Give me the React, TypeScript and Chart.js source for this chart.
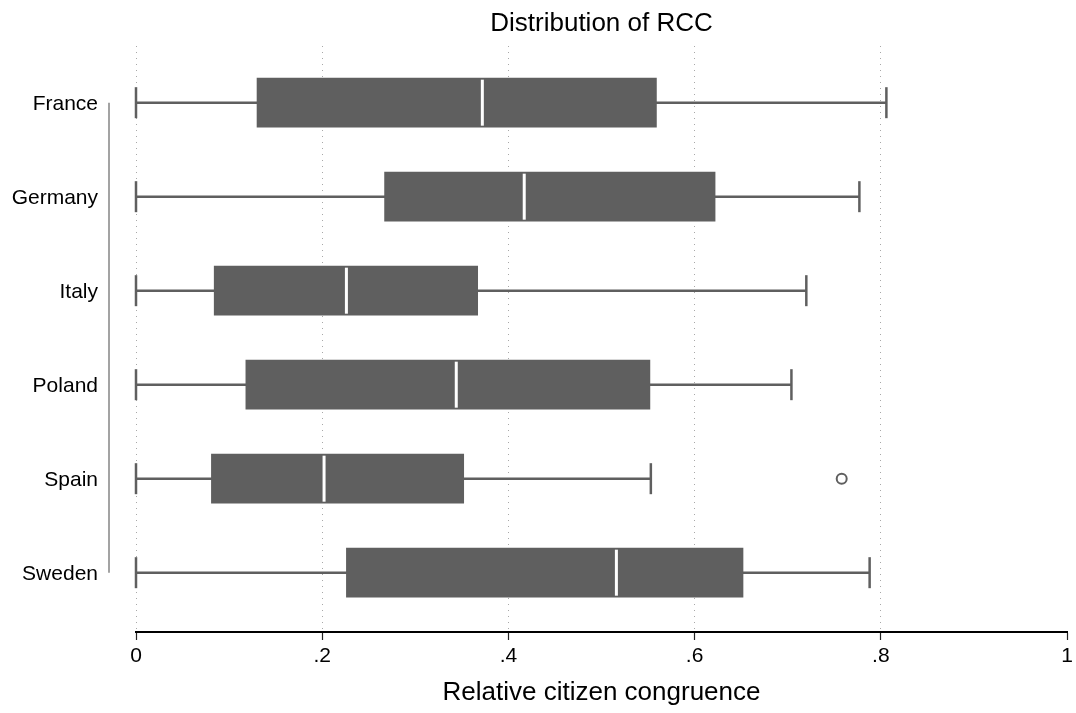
import React, { useEffect, useRef } from "react";
import { Chart, registerables } from "chart.js";

Chart.register(...registerables);

const countries = ["France", "Germany", "Italy", "Poland", "Spain", "Sweden"];
const lowerWhisker = [0, 0, 0, 0, 0, 0];
const q1 = [0.13, 0.267, 0.084, 0.118, 0.081, 0.226];
const median = [0.372, 0.417, 0.226, 0.344, 0.202, 0.516];
const q3 = [0.559, 0.622, 0.367, 0.552, 0.352, 0.652];
const upperWhisker = [0.806, 0.777, 0.72, 0.704, 0.553, 0.788];
const outlierCountries = ["Spain"];
const outlierValues = [0.758];
const xTickValues = [0, 0.2, 0.4, 0.6, 0.8, 1];
const xTickLabels = ["0", ".2", ".4", ".6", ".8", "1"];

const chartTitle = "Distribution of RCC";
const xTitle = "Relative citizen congruence";

const FONT = '"Liberation Sans", Arial, Helvetica, sans-serif';
const BOX = "#5f5f5f";

const axisLinePlugin = {
  id: "shortAxisLine",
  afterDraw(chart: any) {
    const { ctx } = chart;
    const y = chart.scales.y;
    const x = y.right - 27;
    ctx.save();
    ctx.strokeStyle = "#a3a3a3";
    ctx.lineWidth = 2;
    ctx.beginPath();
    ctx.moveTo(x, y.getPixelForValue(0));
    ctx.lineTo(x, y.getPixelForValue(countries.length - 1));
    ctx.stroke();
    ctx.restore();
  },
};

export default function App() {
  const ref = useRef<HTMLCanvasElement | null>(null);

  useEffect(() => {
    if (!ref.current) return;
    Chart.defaults.font.family = FONT;
    Chart.defaults.color = "#000";

    const whiskerData: any[] = [];
    countries.forEach((_, i) => {
      whiskerData.push({ x: lowerWhisker[i], y: i });
      whiskerData.push({ x: upperWhisker[i], y: i });
      whiskerData.push({ x: NaN, y: NaN });
    });
    const capData: any[] = [];
    countries.forEach((_, i) => {
      capData.push({ x: lowerWhisker[i], y: i });
      capData.push({ x: upperWhisker[i], y: i });
    });

    const chart = new Chart(ref.current, {
      type: "bar",
      data: {
        datasets: [
          {
            type: "line",
            label: "whiskers",
            data: whiskerData,
            borderColor: BOX,
            borderWidth: 2.5,
            pointRadius: 0,
            spanGaps: false,
            fill: false,
            clip: false,
            order: 5,
          } as any,
          {
            type: "bar",
            label: "box",
            indexAxis: "y",
            data: countries.map((_, i) => ({ y: i, x: [q1[i], q3[i]] })),
            backgroundColor: BOX,
            borderWidth: 0,
            barThickness: 49,
            order: 4,
          } as any,
          {
            type: "scatter",
            label: "caps",
            data: capData,
            pointStyle: "line",
            rotation: 90,
            radius: 15.5,
            borderWidth: 2.5,
            borderColor: BOX,
            clip: false,
            order: 3,
          } as any,
          {
            type: "scatter",
            label: "outliers",
            data: outlierCountries.map((c, k) => ({ x: outlierValues[k], y: countries.indexOf(c) })),
            pointStyle: "circle",
            radius: 5,
            borderWidth: 2,
            borderColor: BOX,
            backgroundColor: "rgba(0,0,0,0)",
            order: 2,
          } as any,
          {
            type: "scatter",
            label: "median",
            data: countries.map((_, i) => ({ x: median[i], y: i })),
            pointStyle: "line",
            rotation: 90,
            radius: 23,
            borderWidth: 3,
            borderColor: "#ffffff",
            order: 1,
          } as any,
        ],
      },
      options: {
        animation: false,
        responsive: false,
        events: [],
        layout: { autoPadding: false, padding: { top: 0, left: 0, right: 9, bottom: 0 } },
        plugins: {
          legend: { display: false },
          tooltip: { enabled: false },
          title: {
            display: true,
            text: chartTitle,
            fullSize: false,
            color: "#000",
            font: { size: 26, weight: "normal", family: FONT },
            padding: { top: 8, bottom: 6.8 },
          },
        },
        scales: {
          x: {
            type: "linear",
            position: "bottom",
            offset: false,
            min: 0,
            max: 1,
            afterBuildTicks: (axis: any) => {
              axis.ticks = xTickValues.map((v) => ({ value: v }));
            },
            afterFit: (axis: any) => {
              axis.height = 81;
              axis.paddingLeft = 0;
              axis.paddingRight = 0;
            },
            ticks: {
              callback: (_v: any, i: number) => xTickLabels[i],
              font: { size: 21, family: FONT },
              color: "#000",
              padding: 4,
              maxRotation: 0,
              autoSkip: false,
            },
            grid: {
              display: true,
              offset: false,
              drawOnChartArea: true,
              drawTicks: true,
              tickLength: 8,
              color: (ctx: any) => (ctx.tick && ctx.tick.value === 1 ? "rgba(0,0,0,0)" : "#a8a8a8"),
              lineWidth: 1,
              tickColor: "#222",
              tickWidth: 1.2,
              tickBorderDash: [],
            },
            border: { display: true, color: "#000", width: 2, dash: [1, 5] },
            title: {
              display: true,
              text: xTitle,
              color: "#000",
              font: { size: 26, weight: "normal", family: FONT },
              padding: { top: 0, bottom: 4.4 },
            },
          },
          y: {
            type: "linear",
            position: "left",
            offset: false,
            reverse: true,
            min: -0.603,
            max: 5.631,
            afterBuildTicks: (axis: any) => {
              axis.ticks = countries.map((_, i) => ({ value: i }));
            },
            afterFit: (axis: any) => {
              axis.width = 136;
              axis.paddingTop = 0;
              axis.paddingBottom = 0;
            },
            ticks: {
              callback: (v: any) => countries[v],
              font: { size: 21, family: FONT },
              color: "#000",
              padding: 38,
              labelOffset: 2,
              autoSkip: false,
            },
            grid: { display: false, drawTicks: false, offset: false },
            border: { display: false },
          },
        },
      } as any,
      plugins: [axisLinePlugin],
    });
    return () => chart.destroy();
  }, []);

  return (
    <div style={{ position: "absolute", left: 0, top: 0, width: 1076, height: 713 }}>
      <canvas ref={ref} width={1076} height={713} style={{ display: "block" }} />
    </div>
  );
}
